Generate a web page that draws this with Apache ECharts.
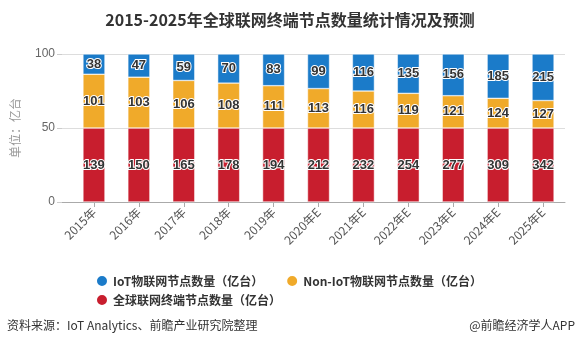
<!DOCTYPE html>
<html>
<head>
<meta charset="utf-8">
<script src="https://cdn.jsdelivr.net/npm/echarts@6/dist/echarts.min.js"></script>
<style>html,body{margin:0;padding:0;background:#fff;}#c{width:580px;height:347px;}</style>
</head>
<body>
<div id="c"></div>
<script>
const categories = ['2015年','2016年','2017年','2018年','2019年','2020年E','2021年E','2022年E','2023年E','2024年E','2025年E'];
const iotValues = [38,47,59,70,83,99,116,135,156,185,215];
const nonIotValues = [101,103,106,108,111,113,116,119,121,124,127];
const totalValues = [139,150,165,178,194,212,232,254,277,309,342];
const yTicks = [0,50,100];

const seriesNames = ['IoT物联网节点数量（亿台）','Non-IoT物联网节点数量（亿台）','全球联网终端节点数量（亿台）'];
const colors = { iot:'#1b7bc9', non:'#f0aa2a', total:'#c81e2e' };

// Chart is drawn as share: total fills the lower half, IoT and Non-IoT split the upper half
const redShare = totalValues.map(() => 50);
const nonShare = nonIotValues.map((v,i) => 50 * v / totalValues[i]);
const iotShare = iotValues.map((v,i) => 50 * v / totalValues[i]);

const labelStyle = (arr) => ({
  show: true, position: 'inside',
  formatter: p => String(arr[p.dataIndex]),
  color: '#333', fontSize: 13, fontWeight: 'bold',
  fontFamily: 'Arial, "Liberation Sans", sans-serif',
  textBorderColor: '#fff', textBorderWidth: 2
});

const chart = echarts.init(document.getElementById('c'), null, {renderer:'canvas'});
chart.setOption({
  animation: false,
  backgroundColor: '#fff',
  title: {
    text: '2015-2025年全球联网终端节点数量统计情况及预测',
    left: 'center', top: 7,
    textStyle: { fontSize: 16, fontWeight: 'bold', color: '#333', fontFamily: '"Noto Sans CJK SC", sans-serif' }
  },
  graphic: [
    { type:'text', left: 7, top: 319, style: { text: '资料来源：IoT Analytics、前瞻产业研究院整理', fill:'#333', font: '12px "Noto Sans CJK SC", sans-serif' } },
    { type:'text', right: 5, top: 319, style: { text: '@前瞻经济学人APP', fill:'#333', font: '12px "Noto Sans CJK SC", sans-serif' } }
  ],
  legend: [
    { data: [seriesNames[0], seriesNames[1]], left: 90, top: 269, icon: 'circle', itemWidth: 12, itemHeight: 12, itemGap: 22,
      textStyle: { fontSize: 12, fontWeight: 'bold', color: '#333', fontFamily: '"Noto Sans CJK SC", sans-serif' } },
    { data: [seriesNames[2]], left: 90, top: 288, icon: 'circle', itemWidth: 12, itemHeight: 12,
      textStyle: { fontSize: 12, fontWeight: 'bold', color: '#333', fontFamily: '"Noto Sans CJK SC", sans-serif' } }
  ],
  grid: [
    { left: 62, right: 15, top: 54, bottom: 145 },
    { left: 71.5, right: 14.5, top: 54, bottom: 145 }
  ],
  xAxis: [
    { gridIndex: 0, type: 'category', data: [''], axisLine: { show: true, lineStyle: { color: '#aaa' } }, axisTick: { show: false }, axisLabel: { show: false } },
    { gridIndex: 1, type: 'category', data: categories,
      axisLine: { show: false },
      axisTick: { show: true, alignWithLabel: true, length: 5, lineStyle: { color: '#aaa' } },
      axisLabel: { rotate: 45, color: '#555', fontSize: 12, margin: 8, fontFamily: '"Noto Sans CJK SC", sans-serif' } }
  ],
  yAxis: [
    { gridIndex: 0, type: 'value', min: yTicks[0], max: yTicks[yTicks.length-1], interval: 50,
      name: '单位：亿台', nameLocation: 'middle', nameGap: 41,
      nameTextStyle: { color: '#999', fontSize: 12, fontFamily: '"Noto Sans CJK SC", sans-serif' },
      axisLine: { show: false },
      axisTick: { show: true, length: 5, lineStyle: { color: '#ccc' } },
      axisLabel: { color: '#666', fontSize: 12, margin: 7, fontFamily: 'Arial, "Liberation Sans", sans-serif' },
      splitLine: { show: true, lineStyle: { color: '#ddd' } } },
    { gridIndex: 1, type: 'value', min: yTicks[0], max: yTicks[yTicks.length-1], interval: 50,
      show: false }
  ],
  series: [
    { name: seriesNames[2], type: 'bar', stack: 's', xAxisIndex: 1, yAxisIndex: 1, barWidth: 22,
      data: redShare, itemStyle: { color: colors.total, borderColor: '#fff', borderWidth: 0.5 }, label: labelStyle(totalValues) },
    { name: seriesNames[1], type: 'bar', stack: 's', xAxisIndex: 1, yAxisIndex: 1, barWidth: 22,
      data: nonShare, itemStyle: { color: colors.non, borderColor: '#fff', borderWidth: 0.5 }, label: labelStyle(nonIotValues) },
    { name: seriesNames[0], type: 'bar', stack: 's', xAxisIndex: 1, yAxisIndex: 1, barWidth: 22,
      data: iotShare, itemStyle: { color: colors.iot, borderColor: '#fff', borderWidth: 0.5 }, label: labelStyle(iotValues) }
  ]
});
</script>
</body>
</html>
